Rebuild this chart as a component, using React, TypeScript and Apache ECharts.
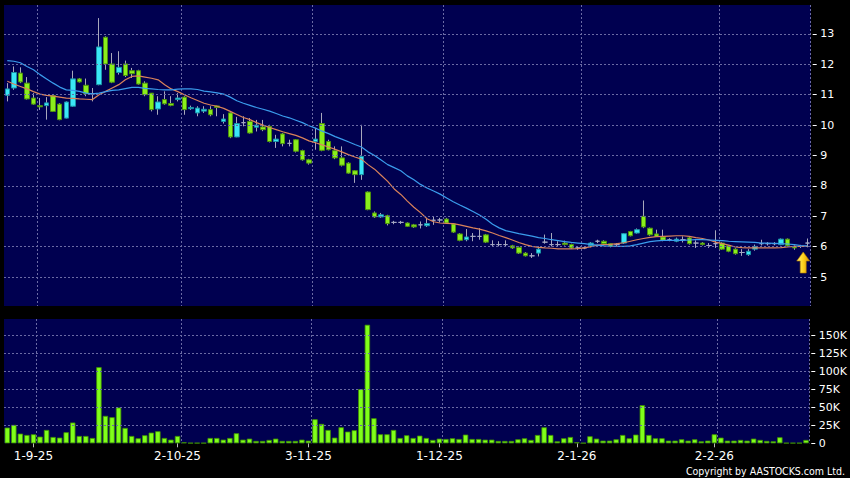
import React, { useEffect, useRef } from "react";
import * as echarts from "echarts";

// ---- Dates (trading days) ----
const monthDays: [string, string, number[]][] = [
  ["8", "25", [26, 27, 28, 29]],
  ["9", "25", [1, 2, 3, 4, 5, 8, 9, 10, 11, 12, 15, 16, 17, 18, 19, 22, 23, 24, 25, 26, 29, 30]],
  ["10", "25", [2, 3, 6, 8, 9, 10, 13, 14, 15, 16, 17, 20, 21, 22, 23, 24, 27, 28, 30, 31]],
  ["11", "25", [3, 4, 5, 6, 7, 10, 11, 12, 13, 14, 17, 18, 19, 20, 21, 24, 25, 26, 27, 28]],
  ["12", "25", [1, 2, 3, 4, 5, 8, 9, 10, 11, 12, 15, 16, 17, 18, 19, 22, 23, 24, 29, 30, 31]],
  ["1", "26", [2, 5, 6, 7, 8, 9, 12, 13, 14, 15, 16, 19, 20, 21, 22, 23, 26, 27, 28, 29, 30]],
  ["2", "26", [2, 3, 4, 5, 6, 9, 10, 11, 12, 13, 16, 20, 23, 24, 25]],
];
const categories: string[] = monthDays.flatMap(([m, y, days]) => days.map((d) => `${d}-${m}-${y}`));
const xTickLabels = ["1-9-25", "2-10-25", "3-11-25", "1-12-25", "2-1-26", "2-2-26"];

const priceTicks = [5, 6, 7, 8, 9, 10, 11, 12, 13];
const volumeTicks = [0, 25, 50, 75, 100, 125, 150];

// ---- Candles: [open, close, low, high] ----
const ohlc: number[][] = [
  [10.98, 11.19, 10.78, 11.38], [11.22, 11.73, 11.16, 11.93], [11.71, 11.42, 11.38, 11.9], [11.38, 10.86, 10.84, 11.58],
  [10.89, 10.69, 10.67, 11.05], [10.64, 10.6, 10.5, 10.89], [10.64, 10.73, 10.18, 10.92], [10.97, 10.45, 10.43, 11.0],
  [10.69, 10.18, 10.16, 10.72], [10.23, 10.76, 10.22, 10.78], [10.62, 11.52, 10.6, 11.79], [11.52, 11.42, 11.4, 11.55],
  [11.31, 11.03, 10.95, 11.53], [11.03, 11.03, 10.78, 11.22], [11.33, 12.57, 11.31, 13.52], [12.89, 12.01, 11.82, 12.92],
  [12.01, 11.41, 11.38, 12.37], [11.73, 11.9, 11.66, 12.43], [12.01, 11.63, 11.58, 12.12], [11.79, 11.69, 11.55, 11.88],
  [11.79, 11.35, 11.33, 11.82], [11.38, 11.0, 10.95, 11.44], [11.05, 10.51, 10.45, 11.05], [10.53, 10.76, 10.34, 10.95],
  [10.84, 10.7, 10.67, 11.11], [10.71, 10.65, 10.62, 10.95], [10.84, 10.89, 10.78, 11.05], [10.92, 10.51, 10.34, 10.95],
  [10.54, 10.58, 10.5, 10.64], [10.4, 10.56, 10.29, 10.62], [10.46, 10.52, 10.4, 10.62], [10.51, 10.34, 10.29, 10.62],
  [10.63, 10.58, 10.29, 10.64], [10.12, 10.2, 10.05, 10.36], [10.4, 9.61, 9.57, 10.42], [9.61, 10.05, 9.6, 10.27],
  [10.08, 10.08, 9.96, 10.29], [10.12, 9.74, 9.72, 10.23], [9.93, 10.0, 9.79, 10.17], [9.94, 9.85, 9.8, 10.17],
  [9.96, 9.46, 9.43, 10.01], [9.46, 9.54, 9.25, 9.68], [9.71, 9.39, 9.3, 9.74], [9.4, 9.4, 9.3, 9.52],
  [9.52, 9.14, 9.1, 9.54], [9.16, 8.86, 8.83, 9.19], [8.86, 8.75, 8.7, 8.89], [9.46, 9.54, 9.19, 9.9],
  [10.05, 9.17, 9.14, 10.4], [9.46, 9.19, 9.17, 9.52], [9.16, 8.92, 8.88, 9.3], [8.92, 8.68, 8.64, 9.3],
  [8.75, 8.42, 8.4, 8.78], [8.5, 8.37, 8.1, 8.52], [8.37, 8.97, 8.2, 10.01], [7.8, 7.22, 7.2, 7.82],
  [7.11, 6.98, 6.95, 7.16], [6.98, 7.05, 6.95, 7.11], [7.02, 6.76, 6.7, 7.05], [6.8, 6.8, 6.74, 6.85],
  [6.8, 6.8, 6.75, 6.85], [6.78, 6.67, 6.65, 6.8], [6.72, 6.65, 6.62, 6.75], [6.72, 6.72, 6.6, 6.83],
  [6.69, 6.76, 6.65, 6.94], [6.87, 6.87, 6.72, 7.0], [6.88, 6.88, 6.8, 6.95], [6.91, 6.78, 6.75, 6.95],
  [6.75, 6.48, 6.45, 6.78], [6.42, 6.21, 6.18, 6.45], [6.23, 6.32, 6.18, 6.58], [6.34, 6.34, 6.18, 6.45],
  [6.34, 6.34, 6.23, 6.61], [6.39, 6.15, 6.12, 6.42], [6.07, 6.07, 6.01, 6.21], [6.07, 6.07, 6.01, 6.18],
  [6.07, 6.07, 6.01, 6.21], [6.03, 5.96, 5.93, 6.06], [5.98, 5.79, 5.76, 6.01], [5.79, 5.7, 5.68, 5.82],
  [5.7, 5.7, 5.63, 5.79], [5.79, 5.92, 5.68, 6.01], [6.15, 6.15, 6.1, 6.4], [6.07, 6.07, 6.01, 6.45],
  [6.07, 6.07, 6.01, 6.18], [6.12, 6.07, 6.04, 6.2], [6.07, 5.96, 5.93, 6.1], [5.96, 5.96, 5.9, 6.01],
  [5.96, 5.96, 5.92, 6.01], [6.04, 6.12, 5.98, 6.15], [6.18, 6.18, 6.12, 6.23], [6.18, 6.1, 6.07, 6.21],
  [6.1, 6.01, 5.98, 6.12], [6.07, 6.07, 6.0, 6.12], [6.12, 6.43, 6.09, 6.45], [6.5, 6.36, 6.34, 6.52],
  [6.45, 6.56, 6.43, 6.6], [7.0, 6.65, 6.61, 7.52], [6.61, 6.39, 6.36, 6.63], [6.42, 6.34, 6.32, 6.56],
  [6.32, 6.21, 6.18, 6.56], [6.23, 6.23, 6.18, 6.28], [6.18, 6.25, 6.15, 6.3], [6.23, 6.23, 6.14, 6.34],
  [6.29, 6.1, 6.07, 6.32], [6.12, 6.12, 5.96, 6.21], [6.12, 6.07, 6.04, 6.15], [6.04, 6.04, 5.96, 6.12],
  [6.1, 6.1, 5.96, 6.54], [6.12, 5.92, 5.9, 6.15], [6.03, 5.85, 5.82, 6.05], [5.92, 5.77, 5.74, 5.95],
  [5.81, 5.81, 5.7, 5.92], [5.74, 5.85, 5.7, 5.92], [5.92, 6.01, 5.87, 6.07], [6.1, 6.1, 6.04, 6.23],
  [6.1, 6.1, 6.04, 6.15], [6.1, 6.1, 6.05, 6.15], [6.07, 6.25, 6.05, 6.27], [6.25, 6.03, 6.01, 6.27],
  [6.01, 5.96, 5.9, 6.04], [6.01, 6.01, 5.96, 6.06], [6.12, 6.12, 5.98, 6.27],
];

// ---- Moving averages ----
const ma10: number[] = [
  11.44, 11.35, 11.27, 11.19, 11.1, 11.02, 10.98, 10.95, 10.92, 10.89, 10.88, 10.86, 10.85, 10.84, 11.0, 11.11,
  11.22, 11.33, 11.49, 11.6, 11.62, 11.58, 11.54, 11.49, 11.33, 11.19, 11.1, 11.0, 10.9, 10.81, 10.72, 10.66,
  10.62, 10.55, 10.45, 10.35, 10.25, 10.18, 10.08, 10.0, 9.92, 9.85, 9.78, 9.72, 9.66, 9.58, 9.48, 9.42,
  9.35, 9.28, 9.2, 9.12, 9.03, 8.95, 8.88, 8.7, 8.55, 8.35, 8.15, 7.9, 7.72, 7.5, 7.3, 7.12,
  6.92, 6.82, 6.78, 6.77, 6.76, 6.72, 6.67, 6.62, 6.58, 6.52, 6.45, 6.37, 6.3, 6.22, 6.14, 6.07,
  6.01, 5.98, 5.96, 5.95, 5.93, 5.93, 5.93, 5.94, 5.96, 6.0, 6.05, 6.07, 6.08, 6.1, 6.13, 6.18,
  6.23, 6.27, 6.31, 6.33, 6.34, 6.35, 6.36, 6.36, 6.34, 6.3, 6.27, 6.22, 6.15, 6.1, 6.05, 5.99,
  5.97, 5.96, 5.96, 5.96, 5.96, 5.96, 5.97, 5.99, 6.01, 6.01, 6.01,
];
const ma20: number[] = [
  12.12, 12.1, 12.05, 11.93, 11.82, 11.66, 11.52, 11.38, 11.25, 11.16, 11.14, 11.11, 11.05, 11.03, 11.05, 11.1,
  11.14, 11.16, 11.2, 11.24, 11.24, 11.21, 11.19, 11.17, 11.16, 11.16, 11.18, 11.19, 11.19, 11.17, 11.12, 11.09,
  11.06, 11.02, 10.92, 10.8, 10.72, 10.65, 10.58, 10.52, 10.46, 10.38, 10.3, 10.24, 10.16, 10.08, 9.98, 9.9,
  9.8, 9.72, 9.62, 9.54, 9.45, 9.36, 9.28, 9.12, 9.0, 8.85, 8.7, 8.6, 8.5, 8.33, 8.2, 8.05,
  7.93, 7.83, 7.73, 7.6, 7.48, 7.37, 7.27, 7.16, 7.04, 6.9, 6.74, 6.62, 6.53, 6.48, 6.43, 6.39,
  6.35, 6.3, 6.27, 6.23, 6.2, 6.17, 6.14, 6.12, 6.1, 6.07, 6.05, 6.03, 6.02, 6.01, 6.01, 6.03,
  6.07, 6.12, 6.17, 6.19, 6.21, 6.21, 6.21, 6.21, 6.22, 6.23, 6.23, 6.22, 6.21, 6.2, 6.18, 6.17,
  6.16, 6.15, 6.14, 6.12, 6.12, 6.11, 6.1, 6.09, 6.07, 6.04, 6.03,
];

// ---- Volume (thousands of shares) ----
const volumeK: number[] = [
  21.9, 25.6, 13.5, 11.6, 12.6, 9.3, 18.6, 8.8, 7.9, 15.4, 28.9, 10.2, 10.2, 7.4, 106, 38.2,
  36.3, 49.8, 21.4, 10.2, 7.0, 11.2, 14.9, 16.8, 7.4, 5.1, 10.2, 1.4, 0.5, 0.5, 0.5, 7.4,
  7.4, 5.1, 7.4, 14.0, 5.1, 6.5, 3.3, 3.3, 4.7, 6.5, 3.3, 3.3, 3.3, 5.1, 3.7, 33.5,
  27.0, 18.6, 7.9, 22.3, 16.3, 18.2, 75.4, 165, 34.9, 12.6, 12.6, 18.6, 7.4, 11.2, 7.4, 10.7,
  7.4, 4.7, 6.5, 6.0, 7.0, 6.0, 12.1, 6.0, 6.0, 5.1, 5.1, 3.3, 3.3, 3.3, 5.6, 7.0,
  4.7, 11.6, 22.3, 11.6, 2.8, 7.0, 8.8, 1.4, 0.5, 9.8, 6.5, 3.7, 3.7, 5.6, 11.6, 7.0,
  12.1, 53, 11.6, 7.0, 7.0, 3.7, 3.7, 5.6, 3.7, 5.6, 2.8, 3.7, 12.6, 7.9, 3.7, 3.7,
  4.7, 3.7, 6.5, 4.7, 3.3, 2.8, 8.4, 0.5, 0.5, 0.5, 4.7,
];

const arrowPrice = 5.48;

const NAVY = "#000050";
const UP_FILL = "#3ae6f6";
const UP_BORDER = "#1a93a6";
const DOWN_FILL = "#8aee1c";
const DOWN_BORDER = "#4c900e";
const DOJI = "#a4a8c4";
const WICK = "#a8a8bc";
const GRID_LINE = { color: "#6a6aa4", width: 1, type: [2, 2] as number[] };
const FONT = "DejaVu Sans";
const ARROW_PATH = "path://M6.5,0 L13,9 L9.5,9 L9.5,21 L3.5,21 L3.5,9 L0,9 Z";

const monthStartIdx = xTickLabels.map((l) => categories.indexOf(l));
const labelAt = (idx: number) => monthStartIdx.includes(idx);
const gridLineAt = (idx: number) => monthStartIdx.includes(idx - 1);

export default function App() {
  const ref = useRef<HTMLDivElement>(null);

  useEffect(() => {
    if (!ref.current) return;
    const chart = echarts.init(ref.current, null, { renderer: "svg" });

    const bodyData = ohlc.map(([o, c]) => {
      const item: any = { value: [o, c, Math.min(o, c), Math.max(o, c)] };
      if (o === c) {
        item.itemStyle = {
          color: DOJI, color0: DOJI, borderColor: DOJI, borderColor0: DOJI, borderColorDoji: DOJI,
        };
      }
      return item;
    });

    const option: any = {
      animation: false,
      backgroundColor: "#000000",
      grid: [
        { left: 4, right: 39.3, top: 5, height: 301, show: true, backgroundColor: NAVY, borderWidth: 0 },
        { left: 4, right: 39.3, top: 319, height: 124.3, show: true, backgroundColor: NAVY, borderWidth: 0 },
      ],
      xAxis: [
        {
          type: "category", gridIndex: 0, data: categories, boundaryGap: true,
          axisLine: { show: false }, axisTick: { show: false }, axisLabel: { show: false },
          splitLine: { show: true, interval: gridLineAt, lineStyle: GRID_LINE },
        },
        {
          type: "category", gridIndex: 1, data: categories, boundaryGap: true,
          axisLine: { show: false },
          axisTick: { show: true, alignWithLabel: true, interval: labelAt, length: 4, lineStyle: { color: "#bbbbbb" } },
          axisLabel: { interval: labelAt, color: "#ffffff", fontSize: 12, fontFamily: FONT, margin: 7 },
          splitLine: { show: true, interval: gridLineAt, lineStyle: GRID_LINE },
        },
      ],
      yAxis: [
        {
          type: "value", gridIndex: 0, position: "right", min: 4.05, max: 13.95, offset: 2,
          axisLine: { show: false },
          axisTick: { show: true, customValues: priceTicks, length: 4, lineStyle: { color: "#ffffff" } },
          axisLabel: { customValues: priceTicks, color: "#ffffff", fontSize: 11, fontFamily: FONT, margin: 7.5 },
          splitLine: { show: false },
        },
        {
          type: "value", gridIndex: 1, position: "right", min: 0, max: 173, offset: 2,
          axisLine: { show: false },
          axisTick: { show: true, customValues: volumeTicks, length: 4, lineStyle: { color: "#ffffff" } },
          axisLabel: {
            customValues: volumeTicks, color: "#ffffff", fontSize: 11, fontFamily: FONT, margin: 7.5,
            formatter: (v: number) => (v === 0 ? "0" : `${v}K`),
          },
          splitLine: { show: false },
        },
      ],
      series: [
        {
          type: "line", xAxisIndex: 0, yAxisIndex: 0, data: [], z: 1, silent: true,
          markLine: {
            silent: true, animation: false, symbol: ["none", "none"], label: { show: false },
            lineStyle: GRID_LINE, emphasis: { disabled: true },
            data: priceTicks.map((v) => ({ yAxis: v })),
          },
        },
        {
          type: "line", xAxisIndex: 1, yAxisIndex: 1, data: [], z: 1, silent: true,
          markLine: {
            silent: true, animation: false, symbol: ["none", "none"], label: { show: false },
            lineStyle: GRID_LINE, emphasis: { disabled: true },
            data: volumeTicks.filter((v) => v > 0).map((v) => ({ yAxis: v })),
          },
        },
        {
          type: "candlestick", xAxisIndex: 0, yAxisIndex: 0, z: 2, barWidth: 1,
          data: ohlc.map(([o, c, l, h]) => [o, c, l, h]),
          itemStyle: {
            color: WICK, color0: WICK, borderColor: WICK, borderColor0: WICK, borderColorDoji: WICK, borderWidth: 1,
          },
        },
        {
          type: "candlestick", xAxisIndex: 0, yAxisIndex: 0, z: 3, barWidth: 5,
          data: bodyData,
          itemStyle: {
            color: UP_FILL, color0: DOWN_FILL, borderColor: UP_BORDER, borderColor0: DOWN_BORDER,
            borderColorDoji: DOJI, borderWidth: 1,
          },
          markPoint: {
            silent: true, animation: false, label: { show: false },
            data: [
              {
                coord: [categories[categories.length - 1], arrowPrice],
                symbol: ARROW_PATH, symbolSize: [13, 21], symbolOffset: [-4.2, 0],
                itemStyle: {
                  color: new echarts.graphic.LinearGradient(0, 0, 1, 0, [
                    { offset: 0, color: "#fff37a" },
                    { offset: 0.5, color: "#ffd21c" },
                    { offset: 1, color: "#d89400" },
                  ]),
                  borderColor: "#b07800", borderWidth: 0.6,
                },
              },
            ],
          },
        },
        {
          type: "line", xAxisIndex: 0, yAxisIndex: 0, z: 4, data: ma10, showSymbol: false, symbol: "none",
          lineStyle: { color: "#d9825a", width: 1.2 }, silent: true,
        },
        {
          type: "line", xAxisIndex: 0, yAxisIndex: 0, z: 4, data: ma20, showSymbol: false, symbol: "none",
          lineStyle: { color: "#3a9cec", width: 1.2 }, silent: true,
        },
        {
          type: "bar", xAxisIndex: 1, yAxisIndex: 1, z: 2, data: volumeK, barWidth: 5.4,
          itemStyle: { color: "#80ff1a", borderColor: "#3f9000", borderWidth: 0.8 },
        },
      ],
      graphic: [
        {
          type: "text", right: 5, top: 465,
          style: {
            text: "Copyright by AASTOCKS.com Ltd.", fill: "#ffffff",
            font: '10.5px "DejaVu Sans Condensed", "DejaVu Sans", sans-serif',
          },
        },
      ],
    };

    chart.setOption(option);
    return () => chart.dispose();
  }, []);

  return <div ref={ref} style={{ position: "fixed", left: 0, top: 0, width: 850, height: 478 }} />;
}
